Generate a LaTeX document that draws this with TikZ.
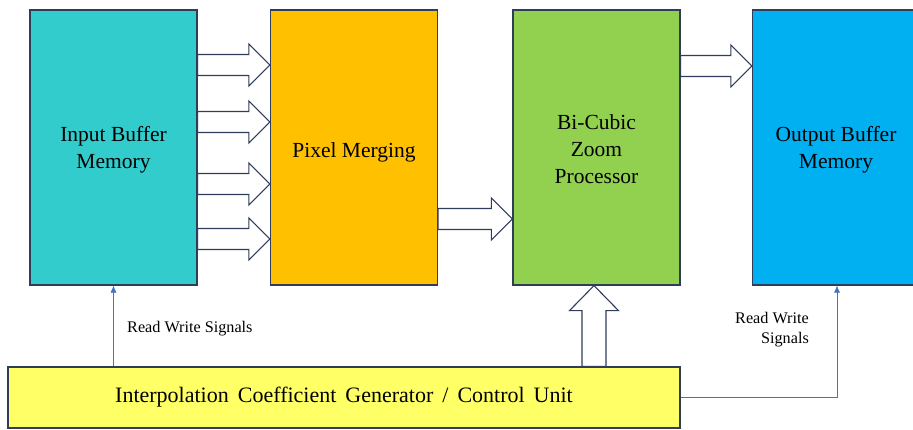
\documentclass[tikz,border=0pt]{standalone}
\usepackage{fontspec}
\setmainfont{Liberation Serif}
\usetikzlibrary{calc,arrows.meta}

\definecolor{tealfill}{HTML}{33CCCC}
\definecolor{orangefill}{HTML}{FFC000}
\definecolor{greenfill}{HTML}{92D050}
\definecolor{bluefill}{HTML}{00B0F0}
\definecolor{yellowfill}{HTML}{FFFF66}
\definecolor{edge}{RGB}{47,60,90}
\definecolor{signal}{HTML}{4472C4}

\newcommand\widespaces{\spaceskip=9pt\relax}

\tikzset{
  stage/.style={draw=edge, line width=1.2pt, minimum width=167pt, minimum height=275pt,
    inner sep=0pt},
  stagetext/.style={align=center, inner sep=0pt,
    font=\rmfamily\fontsize{21.5}{27}\selectfont},
  ctrlbox/.style={draw=edge, line width=1.2pt, fill=yellowfill, minimum width=672pt,
    minimum height=61pt, inner sep=0pt, font=\rmfamily\fontsize{22}{26}\selectfont},
  blockarr/.style={draw=edge, line width=1.1pt, fill=white, line join=miter},
  sig/.style={draw=signal, line width=0.6pt, -{Latex[length=7pt,width=6pt]}},
  siglabel/.style={inner sep=0pt, font=\rmfamily\fontsize{16.2}{20}\selectfont},
}

% horizontal hollow block arrow: start point #1, tip #2
\newcommand\harrow[2]{%
  \draw[blockarr] ($(#1)+(0,-10.5)$) -- ($(#2)+(-21,-10.5)$) -- ($(#2)+(-21,-21)$)
    -- (#2) -- ($(#2)+(-21,21)$) -- ($(#2)+(-21,10.5)$) -- ($(#1)+(0,10.5)$) -- cycle;}

\begin{document}
\begin{tikzpicture}[x=1pt,y=-1pt]
  \useasboundingbox (0,0) rectangle (913,430);

  % processing stages
  \node[stage, fill=tealfill]   (inbuf)  at (113.5,147.5) {};
  \node[stage, fill=orangefill] (merge)  at (354,147.5)   {};
  \node[stage, fill=greenfill]  (zoom)   at (596.5,147.5) {};
  \node[stage, fill=bluefill]   (outbuf) at (836,147.5)   {};

  \node[stagetext] (inbuf-t)  at ([yshift=-2.5pt]inbuf.center)  {Input Buffer\\Memory};
  \node[stagetext] (merge-t)  at ([yshift=-4.5pt]merge.center)  {Pixel Merging};
  \node[stagetext] (zoom-t)   at ([yshift=-1.5pt]zoom.center)   {Bi-Cubic\\Zoom\\Processor};
  \node[stagetext] (outbuf-t) at ([yshift=-2.5pt]outbuf.center) {Output Buffer\\Memory};

  % control unit
  \node[ctrlbox] (ctrl) at (344,397.5)
    {\widespaces Interpolation Coefficient Generator / Control Unit};

  % data paths between stages
  \foreach \yy in {65,122,184,239}
    \harrow{inbuf.east |- 0,\yy}{merge.west |- 0,\yy};
  \harrow{merge.east |- 0,219}{zoom.west |- 0,219};
  \harrow{zoom.east |- 0,66}{outbuf.west |- 0,66};

  % coefficient path from control unit into the zoom processor
  \coordinate (cbase) at (ctrl.north -| 594,0);
  \coordinate (ctip)  at (zoom.south -| 594,0);
  \draw[blockarr] ($(cbase)+(-12,0)$) -- ($(ctip)+(-12,25)$) -- ($(ctip)+(-24.5,25)$)
    -- (ctip) -- ($(ctip)+(24.5,25)$) -- ($(ctip)+(12,25)$) -- ($(cbase)+(12,0)$) -- cycle;

  % read/write control signals
  \draw[sig] (inbuf.south |- ctrl.north) -- (inbuf.south);
  \draw[sig] (ctrl.east) -| ([xshift=1pt]outbuf.south);

  \node[siglabel, anchor=west] (lblL) at (127,329) {Read Write Signals};
  \node[siglabel, anchor=east, align=right] (lblR) at (809,330) {Read Write\\Signals};
\end{tikzpicture}
\end{document}
